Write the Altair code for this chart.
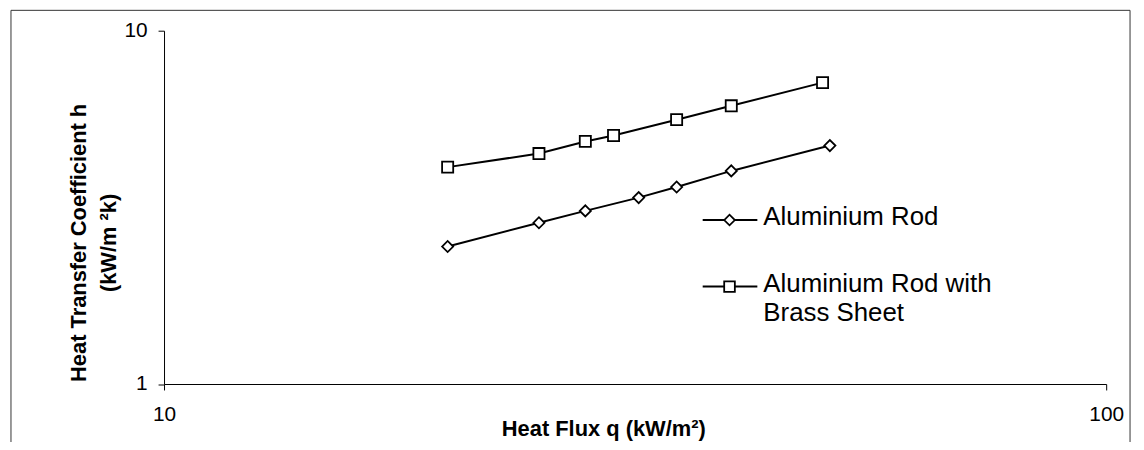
import altair as alt
import pandas as pd

# ---- data ----
series_names = ["Aluminium Rod", "Aluminium Rod with Brass Sheet"]
legend_text = [["Aluminium Rod"], ["Aluminium Rod with", "Brass Sheet"]]
series_shapes = ["diamond", "square"]

q_al = [20.0, 25.0, 28.0, 31.9, 35.0, 40.0, 50.9]
h_al = [2.45, 2.86, 3.09, 3.37, 3.61, 4.01, 4.73]

q_br = [20.0, 25.0, 28.0, 30.0, 35.0, 40.0, 50.0]
h_br = [4.11, 4.49, 4.86, 5.05, 5.60, 6.13, 7.13]

x_ticks = [10, 100]
y_ticks = [1, 10]

x_title = "Heat Flux q (kW/m\u00b2)"
y_title = ["Heat Transfer Coefficient h", "(kW/m \u00b2k)"]

df = pd.DataFrame({
    "q": q_al + q_br,
    "h": h_al + h_br,
    "series": [series_names[0]] * len(q_al) + [series_names[1]] * len(q_br),
})

FONT = "Liberation Sans"
W, H = 948, 355.5

x_enc = alt.X(
    "q:Q",
    scale=alt.Scale(type="log", domain=[10, 100], nice=False),
    axis=alt.Axis(
        values=x_ticks, format="d", title=x_title, grid=False, labelFlush=False,
        labelPadding=14, titleX=442, titleY=52, titleBaseline="alphabetic",
        titleFontSize=22, labelFontSize=21,
    ),
)
y_enc = alt.Y(
    "h:Q",
    scale=alt.Scale(type="log", domain=[1, 10], nice=False),
    axis=alt.Axis(
        values=y_ticks, format="d", title=y_title, grid=False, labelFlush=False,
        labelPadding=11, titleX=-79, titleY=213, titleAngle=270,
        titleBaseline="alphabetic", titleLineHeight=30,
        titleFontSize=22, labelFontSize=21,
    ),
)

lines = alt.Chart(df).mark_line(color="black", strokeWidth=2).encode(
    x=x_enc, y=y_enc, detail="series:N"
)
points = alt.Chart(df).mark_point(
    filled=True, fill="white", stroke="black", strokeWidth=1.8, size=125, opacity=1
).encode(
    x="q:Q", y="h:Q",
    shape=alt.Shape("series:N", scale=alt.Scale(domain=series_names, range=series_shapes), legend=None),
)

# outer chart frame
frame = alt.Chart(alt.Data(values=[{"f": 1}])).mark_rect(
    fillOpacity=0, stroke="#333333", strokeWidth=1
).encode(
    x=alt.value(-154), x2=alt.value(972), y=alt.value(-20.5), y2=alt.value(430)
)

# hand-built legend
legend_layers = []
sym_y = [190.5, 257.5]
txt_y = [195.5, 262.5]
for i, name in enumerate(series_names):
    d = alt.Data(values=[{"s": name}])
    legend_layers.append(
        alt.Chart(d).mark_rule(color="black", strokeWidth=2).encode(
            x=alt.value(542), x2=alt.value(597), y=alt.value(sym_y[i])
        )
    )
    legend_layers.append(
        alt.Chart(d).mark_point(
            shape=series_shapes[i], filled=True, fill="white", stroke="black",
            strokeWidth=1.8, size=115, opacity=1
        ).encode(x=alt.value(569), y=alt.value(sym_y[i]))
    )
    legend_layers.append(
        alt.Chart(d).mark_text(
            text=legend_text[i], align="left", baseline="alphabetic",
            font=FONT, fontSize=26, lineHeight=30, color="black"
        ).encode(x=alt.value(603), y=alt.value(txt_y[i]))
    )

chart = alt.layer(frame, lines, points, *legend_layers).properties(
    width=W, height=H,
    padding={"left": 157, "top": 21.5, "right": 30, "bottom": 57},
    autosize=alt.AutoSizeParams(type="none"),
    background="white",
).configure_view(strokeWidth=0).configure_axis(
    domainColor="black", domainWidth=1, tickColor="black", tickSize=6, tickWidth=1,
    labelFont=FONT, labelColor="black", titleFont=FONT, titleColor="black",
    titleFontWeight="bold",
)

chart.save("out.html", embed_options={"renderer": "svg", "actions": False})
